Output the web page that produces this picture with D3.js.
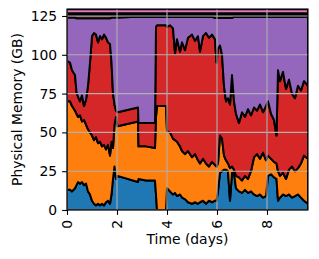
<!DOCTYPE html>
<html>
<head>
<meta charset="utf-8">
<script src="https://cdn.jsdelivr.net/npm/d3@7"></script>
<style>
  body { margin: 0; background: #fff; }
  text { font-family: "DejaVu Sans", sans-serif; }
</style>
</head>
<body>
<svg id="chart"></svg>
<script>
// time axis (days)
const days = [0, 0.12, 0.2, 0.32, 0.38, 0.44, 0.52, 0.6, 0.68, 0.76, 0.84, 0.92, 1.0, 1.08, 1.16, 1.24, 1.32, 1.4, 1.48, 1.56, 1.64, 1.72,
  1.78, 1.84, 1.9, 1.96, 2.02, 2.84, 2.86, 3.16, 3.52, 3.56, 3.6, 3.96, 4.0, 4.12, 4.24, 4.32, 4.4, 4.52, 4.6, 4.72, 4.84,
  5.0, 5.12, 5.24, 5.32, 5.44, 5.56, 5.68, 5.8, 5.92, 5.98, 6.04, 6.12, 6.2, 6.28, 6.36, 6.44, 6.52, 6.6, 6.68, 6.76, 6.88,
  7.0, 7.12, 7.24, 7.36, 7.48, 7.6, 7.72, 7.84, 7.96, 8.04, 8.16, 8.28, 8.38, 8.44, 8.52, 8.64, 8.76, 8.88, 9.0, 9.12, 9.24,
  9.36, 9.48, 9.64];

// memory per layer (GB), bottom to top
const blue = [13, 13, 12, 14, 16, 18, 17, 18, 16, 17, 12, 10, 6, 4, 3, 4, 3, 4, 3, 5, 6, 4,
  10, 20, 28, 20, 22, 18, 20, 19, 19, 10, 0, 0, 14, 12, 10, 11, 9, 10, 8, 7, 5,
  4, 5, 4, 5, 6, 4, 6, 5, 6, 6, 12, 24, 25, 26, 26, 25, 6, 24, 24, 14, 12,
  11, 13, 11, 12, 10, 9, 10, 8, 9, 22, 23, 21, 20, 6, 8, 10, 9, 10, 8, 9, 10,
  8, 6, 4];
const orange = [57, 57, 55, 50, 46, 42, 44, 39, 42, 38, 40, 40, 42, 41, 44, 39, 41, 37, 39, 34, 36, 31,
  34, 20, 27, 40, 32, 39, 21, 22, 21, 50, 67, 67, 37, 38, 36, 34, 35, 31, 30, 29, 33,
  30, 31, 28, 25, 27, 26, 22, 26, 23, 22, 18, 24, 21, 9, 6, 5, 21, 4, 2, 8, 9,
  8, 9, 9, 13, 24, 27, 23, 29, 23, 13, 10, 10, 10, 19, 14, 14, 11, 16, 20, 16, 17,
  22, 29, 29];
const red = [26, 25, 23, 23, 14, 13, 9, 17, 9, 16, 28, 45, 64, 69, 66, 65, 68, 69, 71, 72, 66, 72,
  51, 35, 13, 4, 9, 9, 15, 15, 16, 58, 52, 52, 67, 69, 71, 56, 66, 61, 70, 67, 73,
  79, 73, 80, 72, 79, 84, 83, 82, 81, 67, 74, 58, 54, 45, 38, 42, 41, 59, 44, 40, 35,
  44, 38, 45, 36, 32, 28, 35, 26, 35, 35, 29, 27, 18, 65, 61, 65, 58, 58, 47, 47, 53,
  47, 48, 47];
const purple = [28, 29, 34, 37, 47.5, 50.5, 53.5, 49.5, 56.5, 52.5, 43.5, 28.5, 11.5, 9.5, 10.5, 15.5, 11.5, 13.5, 10.5, 12.5, 15.5, 16.5,
  29, 49, 56, 60, 61, 58.5, 68.5, 68.5, 68.5, 6.5, 5.5, 5.5, 6.5, 5.5, 7.5, 23.5, 14.5, 22.5, 16.5, 21.5, 13.5,
  11.5, 15.5, 12.5, 22.5, 12.5, 10.5, 13.5, 11.5, 13.8, 28.8, 19.8, 17.8, 23.8, 43.8, 53.8, 51.8, 55.8, 36.8, 54.5, 62.5, 68.5,
  61.5, 64.5, 59.5, 63.5, 58.5, 60.5, 56.5, 61.5, 57.5, 54.5, 62.5, 66.5, 76.5, 34.5, 41.5, 35.5, 46.5, 40.5, 49.5, 52.5, 44.5,
  47.5, 41.5, 44.5];
const brown = [1.6, 1.6, 1.6, 1.6, 2.1, 2.1, 2.1, 2.1, 2.1, 2.1, 2.1, 2.1, 2.1, 2.1, 2.1, 2.1, 2.1, 2.1, 2.1, 2.1, 2.1, 2.1,
  1.6, 1.6, 1.6, 1.6, 1.6, 1.1, 1.1, 1.1, 1.1, 1.1, 1.1, 1.1, 1.1, 1.1, 1.1, 1.1, 1.1, 1.1, 1.1, 1.1, 1.1,
  1.1, 1.1, 1.1, 1.1, 1.1, 1.1, 1.1, 1.1, 1.8, 1.8, 1.8, 1.8, 1.8, 1.8, 1.8, 1.8, 1.8, 1.8, 1.1, 1.1, 1.1,
  1.1, 1.1, 1.1, 1.1, 1.1, 1.1, 1.1, 1.1, 1.1, 1.1, 1.1, 1.1, 1.1, 1.1, 1.1, 1.1, 1.1, 1.1, 1.1, 1.1, 1.1,
  1.1, 1.1, 1.1];
const gray = days.map(() => 1.2);
const pink = days.map(() => 2.5);

const layerKeys = ["blue", "orange", "red", "purple", "brown", "gray", "pink"];
const layerColors = ["#1f77b4", "#ff7f0e", "#d62728", "#9467bd", "#8c564b", "#c7c7c7", "#e377c2"];
const xTicks = [0, 2, 4, 6, 8];
const yTicks = [0, 25, 50, 75, 100, 125];

const W = 319, H = 259;
const margin = { left: 67, right: 11, top: 9, bottom: 49 };
const FS = 13.9;

const svg = d3.select("#chart").attr("width", W).attr("height", H);

const series = { blue, orange, red, purple, brown, gray, pink };
const rows = days.map((d, i) => {
  const r = { day: d };
  layerKeys.forEach(k => r[k] = series[k][i]);
  return r;
});

const x = d3.scaleLinear().domain([0, d3.max(days)]).range([margin.left, W - margin.right]);
const y = d3.scaleLinear().domain([0, 129.5]).range([H - margin.bottom, margin.top]);

const stacked = d3.stack().keys(layerKeys)(rows);

svg.append("clipPath").attr("id", "plot-clip")
  .append("rect")
  .attr("x", margin.left).attr("y", margin.top)
  .attr("width", W - margin.left - margin.right)
  .attr("height", H - margin.top - margin.bottom);

const plot = svg.append("g").attr("clip-path", "url(#plot-clip)");

const area = d3.area()
  .x(d => x(d.data.day))
  .y0(d => y(d[0]))
  .y1(d => y(d[1]));

plot.selectAll("path.layer")
  .data(stacked)
  .join("path")
  .attr("class", "layer")
  .attr("fill", (d, i) => layerColors[i])
  .attr("stroke", "#000")
  .attr("stroke-width", 2)
  .attr("stroke-linejoin", "round")
  .attr("d", area);

//grid on top
const grid = svg.append("g").attr("stroke", "#b0b0b0").attr("stroke-width", 1.1);
grid.selectAll("line.gx").data(xTicks).join("line")
  .attr("x1", d => x(d)).attr("x2", d => x(d))
  .attr("y1", margin.top).attr("y2", H - margin.bottom);
grid.selectAll("line.gy").data(yTicks).join("line")
  .attr("y1", d => y(d)).attr("y2", d => y(d))
  .attr("x1", margin.left).attr("x2", W - margin.right);

// axes
const xAxis = svg.append("g")
  .attr("transform", `translate(0,${H - margin.bottom})`)
  .call(d3.axisBottom(x).tickValues(xTicks).tickSize(4.9).tickFormat(d3.format("d")));
xAxis.selectAll("text")
  .attr("transform", "rotate(-90)")
  .attr("text-anchor", "end")
  .attr("x", -9.8).attr("y", 0).attr("dy", "0.35em");

const yAxis = svg.append("g")
  .attr("transform", `translate(${margin.left},0)`)
  .call(d3.axisLeft(y).tickValues(yTicks).tickSize(4.9).tickPadding(4.9));

svg.selectAll(".domain").remove();
svg.selectAll(".tick line").attr("stroke", "#000").attr("stroke-width", 1.1);
svg.selectAll(".tick text").attr("font-size", FS).attr("fill", "#000").style("font-family", "DejaVu Sans");

svg.append("rect")
  .attr("x", margin.left).attr("y", margin.top)
  .attr("width", W - margin.left - margin.right)
  .attr("height", H - margin.top - margin.bottom)
  .attr("fill", "none").attr("stroke", "#000").attr("stroke-width", 1.1);

svg.append("text")
  .attr("x", (margin.left + W - margin.right) / 2).attr("y", 244)
  .attr("text-anchor", "middle").attr("font-size", FS)
  .text("Time (days)");

svg.append("text")
  .attr("transform", "rotate(-90)")
  .attr("x", -(margin.top + H - margin.bottom) / 2).attr("y", 22)
  .attr("text-anchor", "middle").attr("font-size", FS)
  .text("Physical Memory (GB)");
</script>
</body>
</html>
